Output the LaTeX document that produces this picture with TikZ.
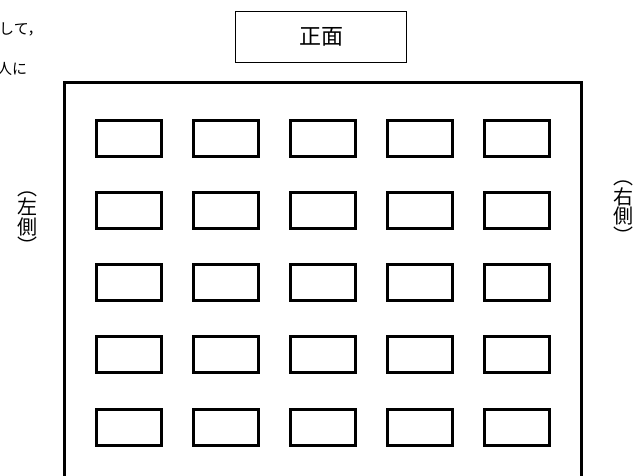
\documentclass[tikz,border=0pt]{standalone}
\usepackage{fontspec}
\newfontfamily\jpfont{Noto Sans CJK JP}
\usetikzlibrary{positioning}

\begin{document}
\begin{tikzpicture}[x=1pt,y=-1pt,
  desk/.style={draw,line width=3pt,minimum width=65pt,minimum height=36pt,inner sep=0pt},
  sidetext/.style={align=center,inner sep=0pt,font=\jpfont\fontsize{20}{19.5}\selectfont},
  notetext/.style={anchor=base west,inner sep=0pt,font=\jpfont\fontsize{15}{15}\selectfont}]
  \clip (0,0) rectangle (643,475);
  \node[notetext] (note1) at (-1,34) {して，};
  \node[notetext] (note2) at (-3,74) {人に};
  \node[draw,line width=1.5pt,minimum width=171pt,minimum height=51pt,font=\jpfont\fontsize{22}{22}\selectfont] (front) at (321,37) {正面};
  \draw[line width=3pt] (64,480) -- (64,82.5) -- (581,82.5) -- (581,480);
  \foreach \r in {1,...,5}
    \foreach \c in {1,...,5}
      \node[desk] (desk\r\c) at ({128.5+97*(\c-1)},{138+72.25*(\r-1)}) {};
  \node[sidetext] (leftside) at (27.5,222.5) {︵\\左\\側\\︶};
  \node[sidetext] (rightside) at (623.5,212) {︵\\右\\側\\︶};
\end{tikzpicture}
\end{document}
